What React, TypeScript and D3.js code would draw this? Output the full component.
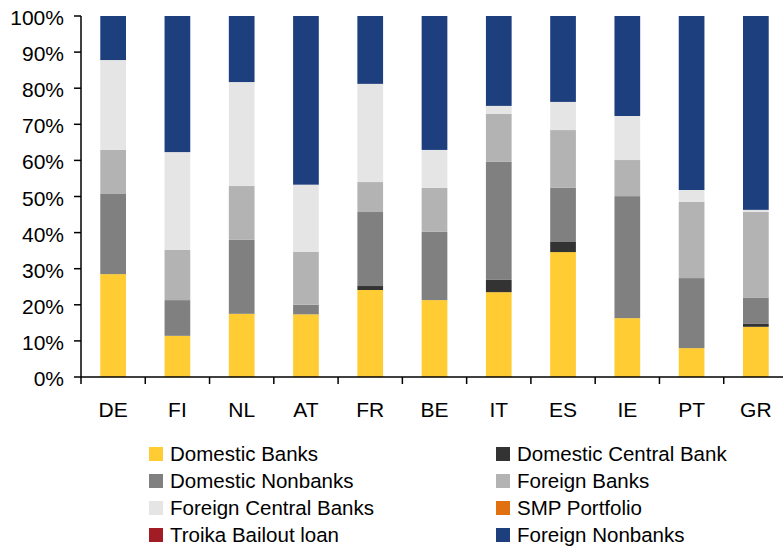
import React from "react";
import * as d3 from "d3";

const categories = ["DE", "FI", "NL", "AT", "FR", "BE", "IT", "ES", "IE", "PT", "GR"];

const domesticBanks = [28.5, 11.4, 17.5, 17.5, 24.1, 21.3, 23.5, 34.6, 16.3, 8.0, 13.9];
const domesticCentralBank = [0, 0, 0, 0, 1.1, 0, 3.4, 2.8, 0, 0, 0.8];
const domesticNonbanks = [22.2, 9.9, 20.5, 2.7, 20.5, 18.9, 32.7, 15.0, 33.8, 19.4, 7.2];
const foreignBanks = [12.2, 13.9, 14.9, 14.7, 8.3, 12.2, 13.3, 16.0, 10.0, 21.1, 23.8];
const foreignCentralBanks = [24.9, 27.1, 28.8, 18.8, 27.2, 10.5, 2.2, 7.8, 12.2, 3.3, 0.6];
const smpPortfolio = [0, 0, 0, 0, 0, 0, 0, 0, 0, 0, 0];
const troikaBailoutLoan = [0, 0, 0, 0, 0, 0, 0, 0, 0, 0, 0];
const foreignNonbanks = [12.2, 37.7, 18.3, 47.1, 18.8, 37.1, 24.9, 23.8, 27.7, 48.2, 53.7];

const seriesNames = [
  "Domestic Banks",
  "Domestic Central Bank",
  "Domestic Nonbanks",
  "Foreign Banks",
  "Foreign Central Banks",
  "SMP Portfolio",
  "Troika Bailout loan",
  "Foreign Nonbanks",
];
const seriesValues = [
  domesticBanks,
  domesticCentralBank,
  domesticNonbanks,
  foreignBanks,
  foreignCentralBanks,
  smpPortfolio,
  troikaBailoutLoan,
  foreignNonbanks,
];
const seriesColors = [
  "#FFCC33",
  "#333333",
  "#808080",
  "#B3B3B3",
  "#E5E5E5",
  "#E07010",
  "#A11C24",
  "#1E3F7E",
];
const yTicks = [0, 10, 20, 30, 40, 50, 60, 70, 80, 90, 100];

const W = 783;
const H = 547;
const FONT = "'Liberation Sans', Arial, sans-serif";

export default function App() {
  const left = 81;
  const right = 788;
  const top = 16;
  const bottom = 377;

  const x = d3
    .scaleBand<string>()
    .domain(categories)
    .range([left, right])
    .paddingInner(0.6)
    .paddingOuter(0.3);
  const y = d3.scaleLinear().domain([0, 100]).range([bottom, top]);

  const rows = categories.map((c, i) => {
    const r: any = { cat: c };
    seriesNames.forEach((s, j) => (r[s] = seriesValues[j][i]));
    return r;
  });
  const totals = categories.map((_, i) =>
    seriesValues.reduce((a, s) => a + s[i], 0)
  );
  const normRows = rows.map((r, i) => {
    const o: any = { cat: r.cat };
    seriesNames.forEach((s) => (o[s] = (r[s] / totals[i]) * 100));
    return o;
  });
  const stacked = d3.stack<any>().keys(seriesNames)(normRows);

  const step = x.step();
  const boundaries = categories.map((c) => (x(c) as number) - 0.3 * step);
  boundaries.push(right);

  const legendRows = [
    [0, 1],
    [2, 3],
    [4, 5],
    [6, 7],
  ];

  return (
    <svg
      width={W}
      height={H}
      style={{ position: "absolute", left: 0, top: 0, background: "#fff" }}
      fontFamily={FONT}
    >
      <rect x={0} y={0} width={W} height={H} fill="#fff" />
      {stacked.map((layer, j) => (
        <g key={seriesNames[j]} fill={seriesColors[j]}>
          {layer.map((d, i) => {
            const h = y(d[0]) - y(d[1]);
            if (h <= 0) return null;
            return (
              <rect
                key={i}
                x={x(categories[i])}
                y={y(d[1])}
                width={x.bandwidth()}
                height={h}
              />
            );
          })}
        </g>
      ))}
      {/* y axis */}
      <line x1={left} x2={left} y1={top} y2={bottom} stroke="#000" strokeWidth={1.5} />
      {yTicks.map((t) => (
        <g key={t}>
          <line x1={left - 7} x2={left} y1={y(t)} y2={y(t)} stroke="#000" strokeWidth={1.5} />
          <text
            x={64}
            y={y(t) + 9}
            textAnchor="end"
            fontSize={21}
            fill="#000"
          >
            {t}%
          </text>
        </g>
      ))}
      {/* x axis */}
      <line x1={left} x2={W} y1={bottom} y2={bottom} stroke="#000" strokeWidth={1.5} />
      {boundaries.map((b, i) => (
        <line key={i} x1={b} x2={b} y1={bottom} y2={bottom + 7} stroke="#000" strokeWidth={1.5} />
      ))}
      {categories.map((c) => (
        <text
          key={c}
          x={(x(c) as number) + x.bandwidth() / 2}
          y={417}
          textAnchor="middle"
          fontSize={21}
          fill="#000"
        >
          {c}
        </text>
      ))}
      {/* legend */}
      {legendRows.map((pair, r) =>
        pair.map((j, col) => {
          const sx = col === 0 ? 149 : 496;
          const by = 461 + r * 27;
          return (
            <g key={j}>
              <rect x={sx} y={by - 14} width={14} height={14} fill={seriesColors[j]} />
              <text x={sx + 21} y={by} fontSize={20.5} fill="#000">
                {seriesNames[j]}
              </text>
            </g>
          );
        })
      )}
    </svg>
  );
}
